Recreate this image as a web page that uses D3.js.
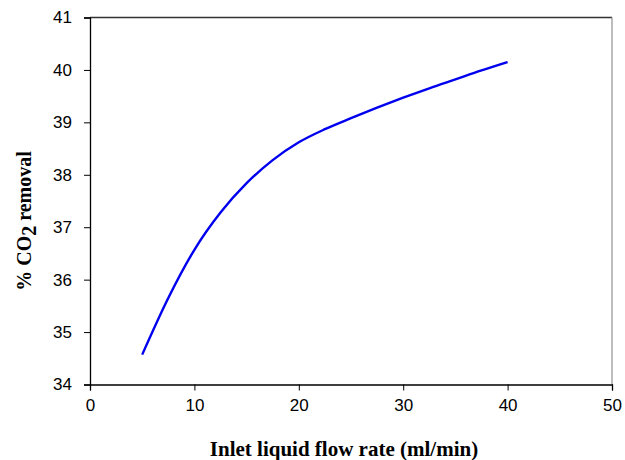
<!DOCTYPE html>
<html>
<head>
<meta charset="utf-8">
<script src="https://cdn.jsdelivr.net/npm/d3@7"></script>
<style>
  body { margin: 0; background: #fff; }
</style>
</head>
<body>
<svg id="chart"></svg>
<script>
var flowRate = [5, 7.5, 10, 12.5, 15, 17.5, 20, 22.5, 25, 27.5, 30, 32.5, 35, 37.5, 40];
var co2Removal = [34.57, 35.65, 36.57, 37.28, 37.84, 38.28, 38.62, 38.87, 39.08, 39.28, 39.47, 39.65, 39.82, 39.99, 40.15];
var xTicks = [0, 10, 20, 30, 40, 50];
var yTicks = [34, 35, 36, 37, 38, 39, 40, 41];

var width = 625, height = 460;
var margin = { top: 17.5, right: 13, bottom: 75.5, left: 90 };

var svg = d3.select("#chart")
    .attr("width", width)
    .attr("height", height);

var x = d3.scaleLinear().domain([0, 50]).range([margin.left, width - margin.right]);
var y = d3.scaleLinear().domain([34, 41]).range([height - margin.bottom, margin.top]);

// frame: top and right edges
svg.append("line")
    .attr("x1", x(0)).attr("x2", x(50))
    .attr("y1", y(41)).attr("y2", y(41))
    .attr("stroke", "#333").attr("stroke-width", 1.3);
svg.append("line")
    .attr("x1", x(50)).attr("x2", x(50))
    .attr("y1", y(41)).attr("y2", y(34))
    .attr("stroke", "#999").attr("stroke-width", 1.3);

var xAxis = svg.append("g")
    .attr("transform", "translate(0," + y(34) + ")")
    .call(d3.axisBottom(x).tickValues(xTicks).tickSize(6).tickPadding(8).tickFormat(d3.format("d")));

var yAxis = svg.append("g")
    .attr("transform", "translate(" + x(0) + ",0)")
    .call(d3.axisLeft(y).tickValues(yTicks).tickSize(6).tickPadding(12).tickFormat(d3.format("d")));

[xAxis, yAxis].forEach(function (g) {
    g.select(".domain").attr("stroke", "#000").attr("stroke-width", 1.3);
    g.selectAll(".tick line").attr("stroke", "#000").attr("stroke-width", 1);
    g.selectAll(".tick text")
        .attr("fill", "#000")
        .style("font-family", "'Liberation Sans', Arial, sans-serif")
        .style("font-size", "17px");
});

var line = d3.line()
    .x((d, i) => x(flowRate[i]))
    .y(d => y(d))
    .curve(d3.curveMonotoneX);

svg.append("path")
    .datum(co2Removal)
    .attr("fill", "none")
    .attr("stroke", "#0000ee")
    .attr("stroke-width", 2.4)
    .attr("d", line);

svg.append("text")
    .attr("x", 344)
    .attr("y", 456)
    .attr("text-anchor", "middle")
    .style("font-family", "'Liberation Serif', 'Times New Roman', serif")
    .style("font-weight", "bold")
    .style("font-size", "21px")
    .text("Inlet liquid flow rate (ml/min)");

var yTitle = svg.append("text")
    .attr("transform", "translate(31,221) rotate(-90)")
    .attr("text-anchor", "middle")
    .style("font-family", "'Liberation Serif', 'Times New Roman', serif")
    .style("font-weight", "bold")
    .style("font-size", "20px");
yTitle.append("tspan").text("% CO");
yTitle.append("tspan").attr("dy", 5).text("2");
yTitle.append("tspan").attr("dy", -5).text(" removal");
</script>
</body>
</html>
